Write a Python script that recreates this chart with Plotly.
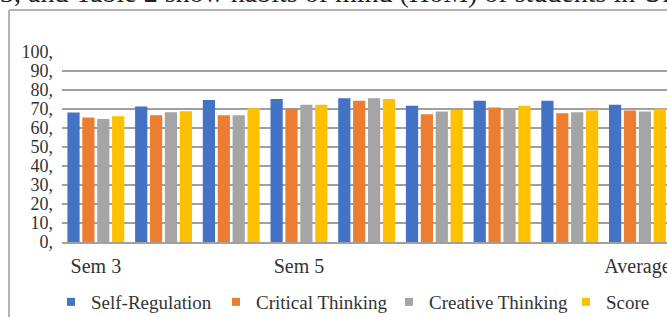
import plotly.graph_objects as go

categories = ["Sem 3", "", "", "Sem 5", "", "", "", "", "Average"]
series_names = ["Self-Regulation", "Critical Thinking", "Creative Thinking", "Score"]
self_regulation = [68.1, 71.3, 74.8, 75.2, 75.7, 71.7, 74.3, 74.3, 72.2]
critical_thinking = [65.5, 66.7, 66.7, 70.1, 74.3, 67.3, 70.8, 67.8, 69.2]
creative_thinking = [64.8, 68.3, 66.7, 72.2, 75.7, 68.7, 70.4, 68.3, 68.7]
score = [66.2, 68.8, 70.4, 72.2, 75.2, 69.5, 71.7, 69.2, 70.1]
y_ticks = [0, 10, 20, 30, 40, 50, 60, 70, 80, 90, 100]
y_tick_labels = [f"{v}," for v in y_ticks]
caption = "3, and Table 2 show habits of mind (HoM) of students in Uni"

colors = ["#4472C4", "#ED7D31", "#A5A5A5", "#FFC000"]
series = [self_regulation, critical_thinking, creative_thinking, score]
xpos = list(range(len(categories)))

FONT = "Liberation Serif, Times New Roman, serif"
TXT = "#333333"

W, H = 667, 317
PL, PT, PB = 62, 52, 242  # plot area in page pixels
L, T, B, R = PL, PT, H - PB, 0
pw, ph = W - L - R, H - T - B

def px(x):
    return (x - PL) / pw

def py(y):
    return (PB - y) / ph

legend_ids = ["legend", "legend2", "legend3", "legend4"]
legend_starts = [51, 216, 389, 566]

fig = go.Figure()
for name, vals, c in zip(series_names, series, colors):
    fig.add_trace(go.Bar(x=xpos, y=vals, name=name, marker=dict(color=c, line=dict(width=0)),
                         showlegend=False))
for name, c, lid in zip(series_names, colors, legend_ids):
    fig.add_trace(go.Scatter(x=[None], y=[None], mode="markers", name=name, legend=lid,
                             marker=dict(symbol="square", size=8, color=c)))

grid = "#a0a0a0"
legend_common = dict(orientation="h", xanchor="left", yanchor="middle",
                     font=dict(size=19, family=FONT, color=TXT),
                     bgcolor="rgba(0,0,0,0)", itemclick=False, itemdoubleclick=False)
legends = {}
for lid, xs in zip(legend_ids, legend_starts):
    legends[lid] = dict(legend_common, x=px(xs), y=py(302))

fig.update_layout(
    width=W, height=H,
    margin=dict(l=L, r=R, t=T, b=B, autoexpand=False),
    paper_bgcolor="white", plot_bgcolor="white",
    barmode="group", bargap=0.12, bargroupgap=0.18,
    font=dict(family=FONT, color=TXT),
    xaxis=dict(range=[-0.5, -0.5 + pw / 67.7], tickvals=xpos, ticktext=categories,
               showgrid=False, zeroline=False, showline=True, linecolor=grid, linewidth=1.5,
               ticks="", tickfont=dict(size=20, family=FONT, color=TXT), ticklabelstandoff=5,
               ticklabeloverflow="allow", automargin=False),
    yaxis=dict(range=[0, 100], tickvals=y_ticks, ticktext=y_tick_labels,
               showgrid=True, gridcolor=grid, gridwidth=1.5, zeroline=False,
               ticks="", tickfont=dict(size=18, family=FONT, color=TXT), ticklabelstandoff=8,
               automargin=False),
    shapes=[
        dict(type="line", xref="paper", yref="paper", x0=px(9), x1=px(9), y0=py(330), y1=py(10),
             line=dict(color="#b5b5b5", width=2)),
        dict(type="line", xref="paper", yref="paper", x0=px(9), x1=px(680), y0=py(10), y1=py(10),
             line=dict(color="#b5b5b5", width=2)),
    ],
    annotations=[
        dict(text=caption, xref="paper", yref="paper", x=px(-2), y=py(10), xanchor="left",
             yanchor="bottom", showarrow=False, font=dict(size=28, family=FONT, color="#222222")),
    ],
    **legends,
)

fig.write_html("out.html", post_script="document.body.style.margin='0';",
               config={"displayModeBar": False})
